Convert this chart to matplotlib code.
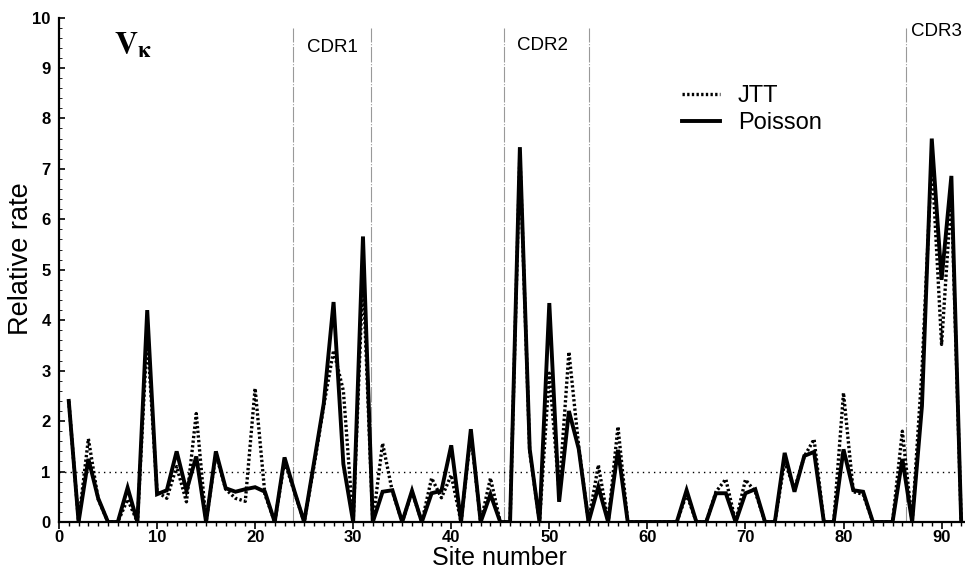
import matplotlib
matplotlib.use("Agg")
import matplotlib.pyplot as plt
from matplotlib.ticker import MultipleLocator

# site-wise relative rates
sites = list(range(1, 93))
poisson = [2.4, 0, 1.25, 0.47, 0, 0, 0.68, 0, 4.2, 0.55,
           0.63, 1.4, 0.62, 1.3, 0, 1.4, 0.67, 0.6, 0.65, 0.69,
           0.6, 0, 1.28, 0.62, 0, 1.17, 2.35, 4.36, 1.15, 0,
           5.66, 0, 0.6, 0.63, 0, 0.62, 0, 0.57, 0.62, 1.52,
           0, 1.84, 0, 0.55, 0, 0, 7.43, 1.45, 0, 4.34,
           0.4, 2.2, 1.45, 0, 0.7, 0, 1.43, 0, 0, 0,
           0, 0, 0, 0.63, 0, 0, 0.57, 0.57, 0, 0.57,
           0.65, 0, 0, 1.37, 0.6, 1.31, 1.39, 0, 0, 1.44,
           0.63, 0.6, 0, 0, 0, 1.25, 0, 2.3, 7.6, 4.8,
           6.86, 0]
jtt = [2.4, 0, 1.65, 0.45, 0, 0, 0.45, 0, 3.7, 0.6,
       0.47, 1.1, 0.4, 2.15, 0, 1.35, 0.65, 0.47, 0.41, 2.65,
       0.55, 0, 1.2, 0.6, 0, 1.1, 2.3, 3.4, 2.6, 0,
       4.9, 0, 1.56, 0.6, 0, 0.6, 0, 0.87, 0.48, 0.93,
       0, 1.75, 0, 0.87, 0, 0, 7.3, 1.4, 0, 2.95,
       0.6, 3.37, 1.5, 0, 1.13, 0, 1.89, 0, 0, 0,
       0, 0, 0, 0.55, 0, 0, 0.6, 0.85, 0, 0.84,
       0.6, 0, 0, 1.2, 0.65, 1.3, 1.64, 0, 0, 2.56,
       0.6, 0.55, 0, 0, 0, 1.8, 0, 3.0, 7.2, 3.52,
       6.5, 0]

# CDR boundaries and labels
boundaries = [23.9, 31.8, 45.4, 54.0, 86.4]
cdr_names = ["CDR1", "CDR2", "CDR3"]
cdr_x = [25.3, 46.7, 86.9]
cdr_y = [9.4, 9.45, 9.72]

SANS = ["Liberation Sans", "DejaVu Sans"]


def graph():
    plt.rcParams['font.family'] = SANS
    plt.rcParams['mathtext.fontset'] = 'stix'
    fig = plt.figure(figsize=(9.65, 5.72), dpi=100)
    ax = fig.add_axes([0.0611, 0.0874, 0.938, 0.882])

    for b in boundaries:
        ax.plot([b, b], [0, 9.8], color="#999999", lw=0.8,
                linestyle=(0, (14, 1.5, 1, 1.5)), zorder=1)
    ax.axhline(1, color="black", lw=1.0, linestyle=(0, (1, 3)), zorder=1)

    ax.plot(sites, jtt, color="black", lw=2.4, linestyle=(0, (0.7, 0.7)),
            label="JTT", zorder=3)
    ax.plot(sites, poisson, color="black", lw=2.8, label="Poisson", zorder=2,
            solid_joinstyle="miter")

    for name, x, y in zip(cdr_names, cdr_x, cdr_y):
        ax.text(x, y, name, fontsize=13.5, va="center", ha="left")
    ax.text(5.6, 9.29, r"$\mathbf{V}_{\mathbf{\kappa}}$", fontsize=23,
            va="baseline", ha="left")

    ax.set_xlim(0, 92.3)
    ax.set_ylim(0, 10)
    ax.spines["top"].set_visible(False)
    ax.spines["right"].set_visible(False)
    ax.spines["left"].set_linewidth(1.6)
    ax.spines["bottom"].set_linewidth(1.6)
    ax.xaxis.set_major_locator(MultipleLocator(10))
    ax.xaxis.set_minor_locator(MultipleLocator(1))
    ax.yaxis.set_major_locator(MultipleLocator(1))
    ax.yaxis.set_minor_locator(MultipleLocator(0.2))
    ax.tick_params(axis="x", which="major", direction="out", length=5, width=1.2,
                   labelsize=12, pad=0.5)
    ax.tick_params(axis="x", which="minor", direction="out", length=3, width=1.0)
    ax.tick_params(axis="y", which="major", direction="in", length=4, width=1.2,
                   labelsize=12, pad=6)
    ax.tick_params(axis="y", which="minor", direction="in", length=2, width=0.6)
    for lab in ax.get_xticklabels() + ax.get_yticklabels():
        lab.set_fontweight("bold")

    ax.set_xlabel("Site number", fontsize=18, va="top")
    ax.xaxis.set_label_coords(0.487, -0.047)
    ax.set_ylabel("Relative rate", fontsize=19.5)
    ax.yaxis.set_label_coords(-0.028, 0.523)

    ax.legend(loc="upper left", bbox_to_anchor=(0.707, 0.851),
              bbox_transform=fig.transFigure, frameon=False, fontsize=17,
              handlelength=1.6, handletextpad=0.75, labelspacing=0.2,
              borderpad=0, borderaxespad=0)

    fig.savefig("out.png", dpi=100)


def main():
    graph()


if __name__ == "__main__":
    main()
